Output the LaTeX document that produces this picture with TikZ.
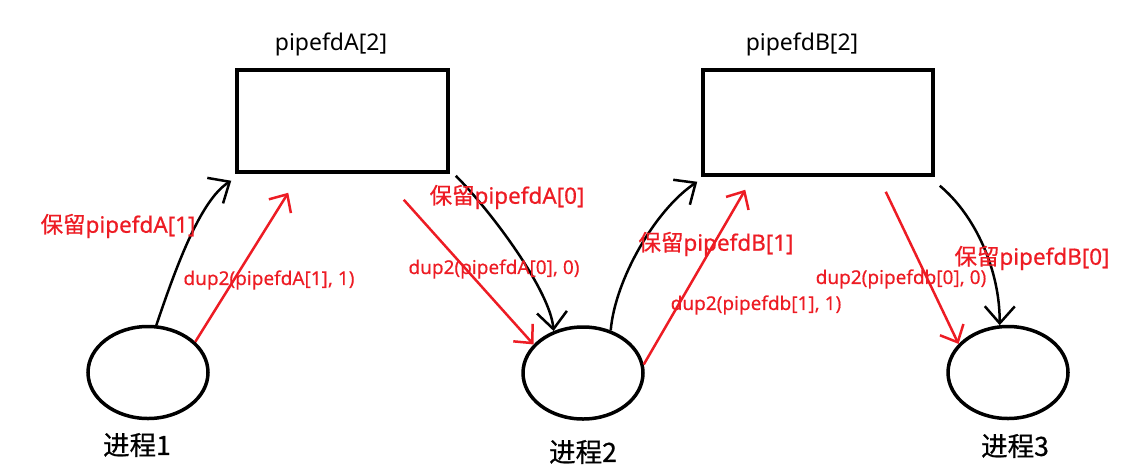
\documentclass[tikz,border=0pt]{standalone}
\usepackage{fontspec}
\setmainfont{Noto Sans}
\newfontfamily\cjk{Noto Sans CJK SC}
\newfontfamily\cjkbold[FakeBold=0.6]{Noto Sans CJK SC}
\newfontfamily\latbold[FakeBold=0.6]{Noto Sans}
\newfontfamily\latsemi[FakeBold=0.3]{Noto Sans}
\usetikzlibrary{arrows.meta,shapes.geometric}
\definecolor{paintred}{RGB}{237,28,36}
\tikzset{
  pipebox/.style={draw, line width=3.5pt, inner sep=0pt},
  procnode/.style={ellipse, draw, line width=3.5pt, inner sep=0pt,
                   minimum width=120pt, minimum height=92pt},
  proclabel/.style={font=\cjkbold\fontsize{26.5}{28}\selectfont},
  titlelabel/.style={font=\fontsize{23}{26}\selectfont},
  keeplabel/.style={text=paintred, font=\latbold\fontsize{22.5}{26}\selectfont},
  duplabel/.style={text=paintred, font=\latsemi\fontsize{19}{22}\selectfont},
  blackarrow/.style={line width=2.5pt, -{Straight Barb[length=17pt,width=30pt]}},
  redarrow/.style={draw=paintred, line width=2.5pt, -{Straight Barb[length=14pt,width=26pt]}},
}
\begin{document}
\begin{tikzpicture}[x=1pt,y=-1pt]
\useasboundingbox (0,0) rectangle (1139,472);

% pipes
\node[pipebox, minimum width=211pt, minimum height=102pt] (boxA) at (342.5,121) {};
\node[pipebox, minimum width=230pt, minimum height=105pt] (boxB) at (818,122.5) {};
\node[titlelabel] (titleA) at (331,44) {pipefdA[2]};
\node[titlelabel] (titleB) at (802,44) {pipefdB[2]};

% processes
\node[procnode] (p1) at (148,372.5) {};
\node[procnode] (p2) at (583,373) {};
\node[procnode] (p3) at (1008,372.5) {};
\node[proclabel] (l1) at (137,445) {进程1};
\node[proclabel] (l2) at (583,452) {进程2};
\node[proclabel] (l3) at (1015,446) {进程3};

% process 1 -> pipefdA
\draw[blackarrow] (p1.80) .. controls (175,270) and (200,200) .. ([shift={(-4,7)}]boxA.south west);
\draw[redarrow] (p1.33) -- ([shift={(53,19)}]boxA.south west);
\node[keeplabel] (k1) at (118,226) {{\cjkbold 保留}pipefdA[1]};
\node[duplabel] (d1) at (269,280) {dup2(pipefdA[1], 1)};

% pipefdA -> process 2
\draw[blackarrow] ([shift={(6,2)}]boxA.south east) .. controls (490,210) and (550,290) .. (p2.125);
\draw[redarrow] ([shift={(-46,26)}]boxA.south east) -- (p2.150);
\node[keeplabel] (k2) at (507,197) {{\cjkbold 保留}pipefdA[0]};
\node[duplabel] (d2) at (494,269) {dup2(pipefdA[0], 0)};

% process 2 -> pipefdB
\draw[blackarrow] (p2.57) .. controls (615,280) and (655,210) .. ([shift={(-4,5)}]boxB.south west);
\draw[redarrow] (p2.8) -- ([shift={(44,13)}]boxB.south west);
\node[keeplabel] (k3) at (716,244) {{\cjkbold 保留}pipefdB[1]};
\node[duplabel] (d3) at (756,305) {dup2(pipefdb[1], 1)};

% pipefdB -> process 3
\draw[blackarrow] ([shift={(5,9)}]boxB.south east) .. controls (975,215) and (1000,270) .. (p3.100);
\draw[redarrow] ([shift={(-49,15)}]boxB.south east) -- (p3.150);
\node[keeplabel] (k4) at (1032,258) {{\cjkbold 保留}pipefdB[0]};
\node[duplabel] (d4) at (901,279) {dup2(pipefdb[0], 0)};
\end{tikzpicture}
\end{document}
